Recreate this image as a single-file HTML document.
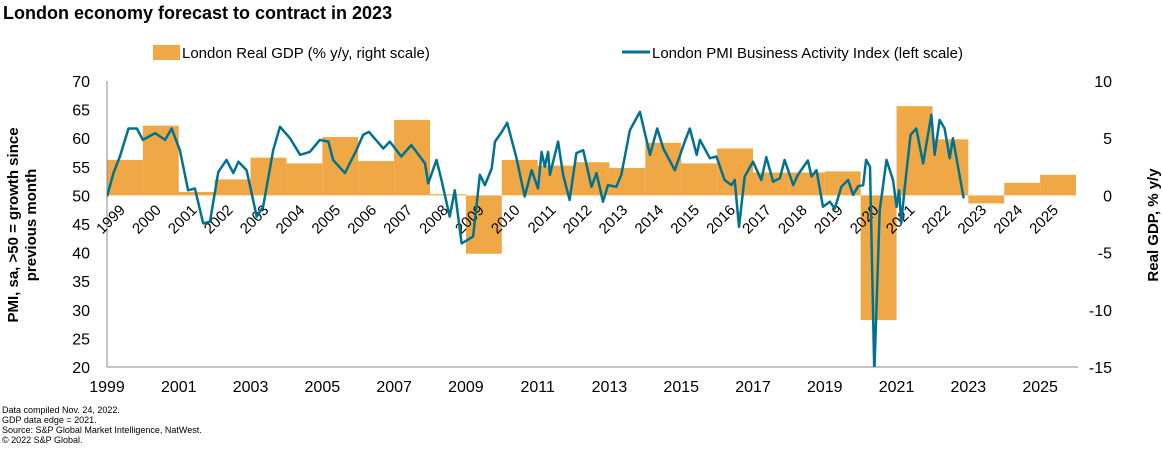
<!DOCTYPE html>
<html><head><meta charset="utf-8"><style>
body{margin:0;background:#fff;width:1162px;height:457px;overflow:hidden;font-family:"Liberation Sans",sans-serif}
</style></head><body>
<svg id="chart" width="1162" height="457" xmlns="http://www.w3.org/2000/svg" font-family="Liberation Sans, sans-serif">
<text x="3" y="19" font-size="18" font-weight="bold" fill="#000">London economy forecast to contract in 2023</text>
<g>
<rect x="153" y="45" width="27" height="15" fill="#F0A847"/>
<text x="182" y="58" font-size="15">London Real GDP (% y/y, right scale)</text>
<line x1="622" y1="52" x2="650" y2="52" stroke="#00728F" stroke-width="3"/>
<text x="652" y="58" font-size="15">London PMI Business Activity Index (left scale)</text>
</g>
<g id="plot"></g>
<text transform="translate(18,225) rotate(-90)" text-anchor="middle" font-size="15" font-weight="bold">PMI, sa, &gt;50 = growth since</text>
<text transform="translate(36,225) rotate(-90)" text-anchor="middle" font-size="15" font-weight="bold">previous month</text>
<text transform="translate(1158,225) rotate(-90)" text-anchor="middle" font-size="15" font-weight="bold">Real GDP, % y/y</text>
<g font-size="9" fill="#000">
<text x="2" y="413">Data compiled Nov. 24, 2022.</text>
<text x="2" y="423">GDP data edge = 2021.</text>
<text x="2" y="433">Source: S&amp;P Global Market Intelligence, NatWest.</text>
<text x="2" y="443">© 2022 S&amp;P Global.</text>
</g>
</svg>
<script>
const gdpYears=[1999,2000,2001,2002,2003,2004,2005,2006,2007,2008,2009,2010,2011,2012,2013,2014,2015,2016,2017,2018,2019,2020,2021,2022,2023,2024,2025];
const gdpValues=[3.1,6.1,0.3,1.4,3.3,2.8,5.1,3.0,6.6,0.1,-5.1,3.1,2.6,2.9,2.4,4.6,2.8,4.1,2.0,2.0,2.1,-10.9,7.8,4.9,-0.7,1.1,1.8];
const pmiDates=[1999.0,1999.18,1999.36,1999.6,1999.83,2000.0,2000.34,2000.62,2000.8,2001.03,2001.26,2001.45,2001.68,2001.87,2002.1,2002.33,2002.52,2002.66,2002.89,2003.17,2003.35,2003.63,2003.82,2004.1,2004.38,2004.65,2004.93,2005.17,2005.3,2005.63,2005.95,2006.14,2006.3,2006.7,2006.88,2007.2,2007.48,2007.86,2007.95,2008.18,2008.32,2008.55,2008.69,2008.88,2009.2,2009.39,2009.53,2009.72,2009.81,2010.0,2010.15,2010.41,2010.64,2010.83,2011.01,2011.11,2011.2,2011.29,2011.34,2011.57,2011.71,2011.89,2012.08,2012.27,2012.5,2012.64,2012.82,2012.96,2013.19,2013.33,2013.57,2013.85,2014.13,2014.33,2014.5,2014.82,2015.1,2015.24,2015.43,2015.52,2015.8,2015.98,2016.21,2016.4,2016.49,2016.61,2016.77,2017.0,2017.23,2017.37,2017.56,2017.75,2017.88,2018.12,2018.25,2018.53,2018.63,2018.77,2018.95,2019.14,2019.28,2019.46,2019.65,2019.79,2019.93,2020.07,2020.15,2020.26,2020.38,2020.53,2020.72,2020.9,2021.0,2021.07,2021.13,2021.23,2021.39,2021.55,2021.74,2021.97,2022.06,2022.2,2022.34,2022.48,2022.57,2022.87];
const pmiValues=[49.8,53.9,56.8,61.7,61.7,59.7,60.9,59.7,61.7,57.9,50.9,51.2,45.1,45.4,54.1,56.2,53.9,55.9,54.4,46.3,48.0,57.9,62.0,60.0,57.1,57.6,59.7,59.4,56.2,53.9,57.9,60.6,61.1,58.2,59.4,56.8,58.8,55.6,52.1,56.2,52.7,46.3,50.9,41.6,42.8,53.6,51.8,54.7,59.4,61.1,62.7,56.5,49.8,54.4,51.2,57.6,55.0,57.6,53.6,59.4,53.6,49.2,57.4,57.9,51.5,53.9,48.9,51.8,51.5,53.6,61.4,64.6,57.1,61.7,58.2,54.4,59.4,61.7,57.1,59.7,56.5,56.8,52.7,51.8,52.7,44.5,53.3,55.9,52.7,56.7,52.4,53.0,56.2,51.8,53.6,56.1,53.3,54.4,48.0,48.9,47.7,51.5,52.7,50.1,51.6,51.8,56.2,55.0,19.0,47.4,56.2,52.7,48.0,50.9,45.1,51.5,60.6,61.7,55.6,64.1,57.1,63.2,61.7,56.5,60.0,49.5];
const leftTicks=[20,25,30,35,40,45,50,55,60,65,70];
const rightTicks=[-15,-10,-5,0,5,10];
const bottomYears=[1999,2001,2003,2005,2007,2009,2011,2013,2015,2017,2019,2021,2023,2025];

const NS='http://www.w3.org/2000/svg';
const X0=107,X1=1076,YT=81,YB=367;
const x=t=>X0+(t-1999)*(X1-X0)/27;
const yL=v=>YT+(70-v)*(YB-YT)/50;
const yR=v=>YT+(10-v)*(YB-YT)/25;
const plot=document.getElementById('plot');
function mk(tag,attrs){const e=document.createElementNS(NS,tag);for(const k in attrs)e.setAttribute(k,attrs[k]);plot.appendChild(e);return e;}
const defs=mk('defs',{});
const cp=document.createElementNS(NS,'clipPath');cp.setAttribute('id','clip');
const cr=document.createElementNS(NS,'rect');cr.setAttribute('x',X0);cr.setAttribute('y',YT);cr.setAttribute('width',X1-X0+3);cr.setAttribute('height',YB-YT);
cp.appendChild(cr);defs.appendChild(cp);

gdpYears.forEach((yr,i)=>{
  const v=gdpValues[i];const y0=yR(0),y1=yR(v);
  const r=mk('rect',{x:x(yr),y:Math.min(y0,y1),width:x(yr+1)-x(yr),height:Math.max(1,Math.abs(y1-y0)),fill:'#F0A847'});
  
  
});
const ax=mk('line',{x1:X0,y1:YT,x2:X0,y2:YB,stroke:'#888'});


const bx=mk('line',{x1:X0,y1:YB,x2:X1+2,y2:YB,stroke:'#888'});


leftTicks.forEach(v=>{
  const t=mk('text',{x:X0-17,y:yL(v)+6,'text-anchor':'end','font-size':16});t.textContent=v;
  
  
});
rightTicks.forEach(v=>{
  const t=mk('text',{x:1112,y:yR(v)+6,'text-anchor':'end','font-size':16});t.textContent=v;
  
  
});
bottomYears.forEach(yr=>{
  const t=mk('text',{x:x(yr),y:392,'text-anchor':'middle','font-size':16});t.textContent=yr;
  
  
});
gdpYears.forEach(yr=>{
  const px=x(yr)+19,py=211;
  const t=mk('text',{x:px,y:py,'text-anchor':'end','font-size':15,transform:`rotate(-45 ${px} ${py})`});t.textContent=yr;
  
  
});
const d=pmiDates.map((t,i)=>(i?'L':'M')+x(t).toFixed(1)+','+yL(pmiValues[i]).toFixed(1)).join('');
const p=mk('path',{d:d,fill:'none',stroke:'#00728F','stroke-width':2.5,'stroke-linejoin':'round','clip-path':'url(#clip)'});


</script>
</body></html>
